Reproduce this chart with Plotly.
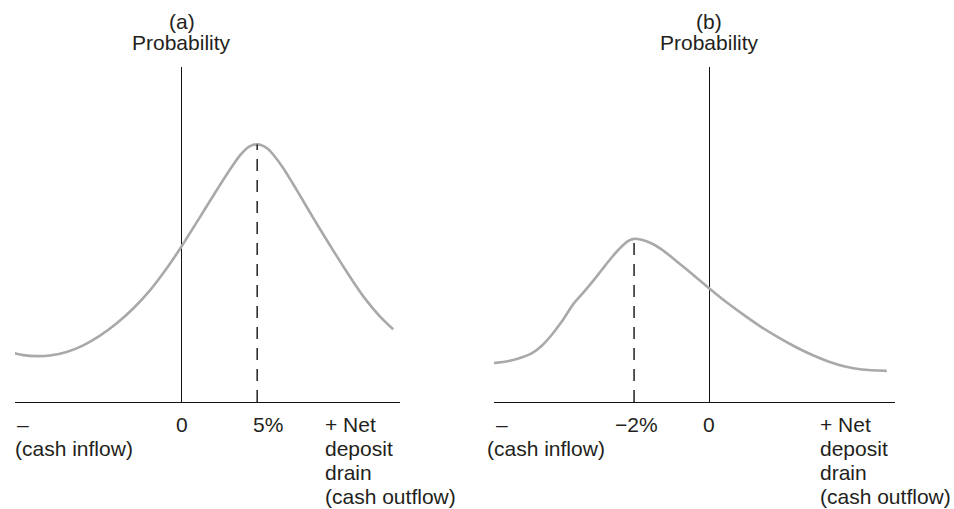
import numpy as np
import plotly.graph_objects as go

# ---------------- data ----------------
# Panel (a): expected net deposit drain of +5%
a_x = [-11.22, -10.49, -9.60, -8.72, -7.62, -6.52, -5.41, -4.30, -3.21, -2.10, -0.99,
       0.0, 1.21, 1.87, 2.54, 3.20, 3.86, 4.30, 4.64, 5.0, 5.32, 5.72, 6.07, 6.73,
       7.39, 8.05, 8.72, 9.38, 10.04, 10.70, 11.36, 12.02, 12.69, 13.35, 14.01]
a_y = [0.147, 0.140, 0.137, 0.139, 0.149, 0.169, 0.198, 0.235, 0.279, 0.333, 0.399,
       0.465, 0.552, 0.600, 0.648, 0.694, 0.736, 0.757, 0.766, 0.769, 0.766, 0.755,
       0.738, 0.698, 0.650, 0.600, 0.549, 0.500, 0.452, 0.405, 0.359, 0.316, 0.278,
       0.245, 0.217]

# Panel (b): expected net deposit drain of -2%
b_x = [-5.76, -5.43, -5.07, -4.72, -4.45, -4.19, -3.92, -3.61, -3.39, -3.12, -2.86,
       -2.59, -2.33, -2.15, -2.0, -1.80, -1.53, -1.26, -1.00, -0.65, -0.38, 0.0,
       0.50, 0.95, 1.39, 1.83, 2.28, 2.72, 3.16, 3.60, 4.05, 4.71]
b_y = [0.116, 0.120, 0.130, 0.145, 0.168, 0.200, 0.240, 0.293, 0.321, 0.357, 0.394,
       0.432, 0.464, 0.481, 0.487, 0.484, 0.473, 0.455, 0.432, 0.400, 0.375, 0.339,
       0.294, 0.257, 0.223, 0.193, 0.165, 0.141, 0.121, 0.106, 0.097, 0.093]

a_tick_vals = [0, 5]
a_tick_text = ["0", "5%"]
b_tick_vals = [-2, 0]
b_tick_text = ["\u22122%", "0"]

panel_titles = ["(a)", "(b)"]
y_title = "Probability"
left_label = ["\u2013", "(cash inflow)"]
right_label = ["+ Net", "deposit", "drain", "(cash outflow)"]

# ---------------- layout constants ----------------
W, H = 954, 509
FONT = "Liberation Sans, Arial, Helvetica, sans-serif"
FS = 21
TXT = "#231f20"
CURVE = "#a9a9ab"


def py(p):
    return 1 - p / H


def px(p):
    return p / W


fig = go.Figure()

for xs, ys, xa, ya in [(a_x, a_y, "x", "y"), (b_x, b_y, "x2", "y2")]:
    fig.add_trace(go.Scatter(x=xs, y=ys, mode="lines", xaxis=xa, yaxis=ya,
                             line=dict(color=CURVE, width=2.6, shape="spline", smoothing=0.8),
                             hoverinfo="skip", showlegend=False))
    i = int(np.argmax(ys))
    fig.add_trace(go.Scatter(x=[xs[i], xs[i]], y=[0, ys[i]], mode="lines", xaxis=xa, yaxis=ya,
                             line=dict(color="#111", width=1.4, dash="12px,9px"),
                             hoverinfo="skip", showlegend=False))

ax_common = dict(showline=True, linecolor="#111", linewidth=1.3, showgrid=False,
                 zeroline=True, zerolinecolor="#111", zerolinewidth=1.2,
                 showticklabels=False, ticks="", fixedrange=True)
ay_common = dict(range=[0, 1], domain=[py(402), py(67)], visible=False, fixedrange=True)

fig.update_layout(
    width=W, height=H,
    margin=dict(l=0, r=0, t=0, b=0),
    paper_bgcolor="white", plot_bgcolor="white",
    xaxis=dict(domain=[px(15), px(400)], range=[-11.04, 14.46], anchor="y", **ax_common),
    xaxis2=dict(domain=[px(494), px(895)], range=[-5.72, 4.93], anchor="y2", **ax_common),
    yaxis=dict(anchor="x", **ay_common),
    yaxis2=dict(anchor="x2", **ay_common),
    font=dict(family=FONT, size=FS, color=TXT),
)

ann = []


def add(text, x, y, xref="paper", xanchor="left", xshift=0):
    ann.append(dict(text=text, x=x, y=py(y), xref=xref, yref="paper", xanchor=xanchor,
                    yanchor="middle", xshift=xshift, showarrow=False,
                    font=dict(family=FONT, size=FS, color=TXT)))


ROW0, ROWSTEP = 424, 24.3

# panel titles
for t, xr in zip(panel_titles, ["x", "x2"]):
    add(t, 0, 21, xref=xr, xanchor="center")
    add(y_title, 0, 43, xref=xr, xanchor="center")

# tick labels (number centred on the tick, % hanging to the right)
for vals, texts, xr in [(a_tick_vals, a_tick_text, "x"), (b_tick_vals, b_tick_text, "x2")]:
    for v, t in zip(vals, texts):
        if t == "0":
            add(t, v, ROW0, xref=xr, xanchor="center")
        elif t.startswith("\u2212"):
            add(t, v, ROW0, xref=xr, xanchor="left", xshift=-21)
        else:
            add(t, v, ROW0, xref=xr, xanchor="left", xshift=-6)

# end labels
for lx, lx2, rx in [(15, 13, 323), (494, 485, 818)]:
    add(left_label[0], px(lx), ROW0)
    add(left_label[1], px(lx2), ROW0 + ROWSTEP)
    for k, t in enumerate(right_label):
        add(t, px(rx), ROW0 + k * ROWSTEP)

fig.update_layout(annotations=ann)
fig.write_html("out.html", config={"displayModeBar": False},
               post_script="document.body.style.margin='0';document.body.style.overflow='hidden';")
